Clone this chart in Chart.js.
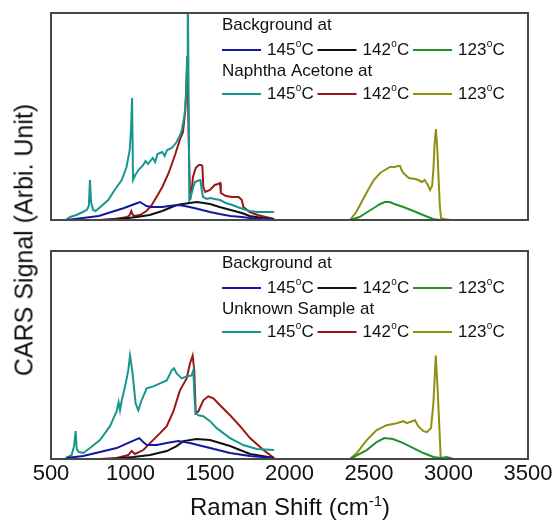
<!DOCTYPE html>
<html>
<head>
<meta charset="utf-8">
<script src="https://cdn.jsdelivr.net/npm/chart.js@4.4.1/dist/chart.umd.min.js"></script>
<style>
  body { margin: 0; background: #fff; }
  #wrap { position: relative; width: 556px; height: 523px; font-family: 'Liberation Sans', Arial, sans-serif; color: #111; }
  #topChart { position: absolute; left: 0; top: 0; }
  #bottomChart { position: absolute; left: 0; top: 235px; }
  #yTitle { position: absolute; left: 24px; top: 240px; transform: translate(-50%, -50%) rotate(-90deg); font-size: 25px; white-space: nowrap; }
  #xTitle { position: absolute; left: 290px; top: 506px; transform: translate(-50%, -50%); font-size: 24px; white-space: nowrap; }
  #xTitle sup { font-size: 15px; }
</style>
</head>
<body>
<div id="wrap">
  <canvas id="topChart" width="556" height="235"></canvas>
  <canvas id="bottomChart" width="556" height="288"></canvas>
  <div id="yTitle">CARS Signal (Arbi. Unit)</div>
  <div id="xTitle">Raman Shift (cm<sup>-1</sup>)</div>
</div>
<script>
// x axis ticks
const xTicks = [500, 1000, 1500, 2000, 2500, 3000, 3500];
const temps = ['145', '142', '123'];

// ---- top panel: Background / Naphtha Acetone ----
const topBg145X = [594, 650, 700, 800, 900, 960, 1010, 1060, 1080, 1100, 1130, 1160, 1200, 1240, 1300, 1340, 1400, 1450, 1500, 1560, 1630, 1700, 1750, 1830, 1903];
const topBg145Y = [0, 1, 2, 4, 9, 12, 15, 18, 16, 14, 13, 13, 13, 14, 15, 14, 12, 10, 8, 6, 4, 3, 2, 1, 1];

const topBg142X = [830, 930, 1040, 1120, 1200, 1245, 1290, 1330, 1370, 1418, 1460, 1500, 1560, 1630, 1700, 1750, 1830, 1903];
const topBg142Y = [0, 1, 3, 5, 9, 12, 15, 16, 17, 18, 17, 16, 13, 10, 7, 4, 2, 1];

const topBg123X = [2380, 2440, 2480, 2540, 2570, 2600, 2630, 2660, 2716, 2780, 2840, 2903, 2945];
const topBg123Y = [0, 3, 7, 13, 16, 18, 18, 16, 13, 9, 5, 1, 0];

const topNa145X = [594, 620, 660, 700, 725, 738, 745, 752, 765, 780, 810, 860, 900, 945, 975, 995, 1003, 1010, 1016, 1030, 1050, 1080, 1095, 1110, 1140, 1155, 1170, 1200, 1215, 1230, 1260, 1290, 1310, 1323, 1340, 1350, 1356, 1360, 1364, 1370, 1380, 1395, 1406, 1420, 1440, 1448, 1456, 1480, 1500, 1530, 1563, 1600, 1640, 1690, 1750, 1800, 1850, 1903];
const topNa145Y = [0, 3, 5, 8, 10, 14, 40, 18, 10, 9, 13, 20, 30, 40, 53, 70, 90, 122, 40, 45, 50, 55, 59, 56, 62, 58, 66, 68, 64, 70, 72, 78, 84, 90, 105, 125, 163, 235, 160, 20, 24, 33, 38, 39, 40, 30, 23, 21, 22, 21, 20, 17, 15, 12, 9, 8, 8, 8];

const topNa142X = [800, 900, 980, 995, 1005, 1012, 1020, 1060, 1100, 1130, 1160, 1200, 1240, 1280, 1310, 1330, 1345, 1352, 1358, 1366, 1375, 1385, 1393, 1410, 1430, 1445, 1452, 1458, 1470, 1500, 1530, 1550, 1563, 1568, 1600, 1640, 1680, 1700, 1710, 1750, 1800, 1850, 1903];
const topNa142Y = [0, 1, 3, 5, 9, 6, 4, 5, 9, 14, 22, 33, 47, 65, 80, 88, 110, 140, 163, 80, 20, 30, 43, 52, 55, 55, 54, 33, 28, 30, 35, 36, 37, 27, 24, 23, 23, 20, 13, 8, 5, 3, 1];

const topNa123X = [1650, 2380, 2400, 2420, 2440, 2460, 2494, 2530, 2570, 2600, 2632, 2660, 2680, 2695, 2705, 2716, 2750, 2790, 2810, 2833, 2850, 2870, 2884, 2897, 2905, 2912, 2921, 2930, 2938, 2945, 2953, 2970, 3010];
const topNa123Y = [0, 0, 4, 8, 14, 20, 30, 40, 47, 50, 53, 53, 54, 54, 50, 47, 42, 41, 40, 38, 40, 35, 30, 34, 50, 75, 91, 70, 40, 15, 2, 1, 0];

// ---- bottom panel: Background / Unknown Sample ----
const botBg145X = [594, 703, 808, 913, 997, 1055, 1080, 1102, 1165, 1228, 1300, 1374, 1500, 1626, 1752, 1903];
const botBg145Y = [1, 3, 7, 11, 17, 21, 17, 14, 14, 16, 18, 16, 11, 6, 3, 1];

const botBg142X = [871, 1018, 1123, 1228, 1290, 1332, 1416, 1500, 1626, 1752, 1903];
const botBg142Y = [0, 2, 4, 8, 13, 18, 20, 19, 13, 5, 1];

const botBg123X = [2381, 2486, 2548, 2596, 2650, 2716, 2779, 2842, 2905, 2951, 2990, 3030];
const botBg123Y = [0, 9, 17, 21, 20, 16, 11, 6, 2, 1, 2, 0];

const botUn145X = [594, 630, 645, 655, 662, 675, 703, 745, 808, 871, 913, 925, 934, 945, 966, 986, 997, 1011, 1032, 1049, 1070, 1102, 1144, 1186, 1228, 1259, 1274, 1290, 1322, 1353, 1385, 1395, 1403, 1410, 1427, 1458, 1500, 1542, 1626, 1709, 1794, 1903];
const botUn145Y = [1, 4, 13, 28, 10, 7, 6, 11, 19, 33, 48, 57, 49, 59, 73, 89, 104, 89, 56, 49, 59, 71, 73, 76, 79, 89, 91, 86, 81, 83, 84, 89, 60, 46, 44, 43, 38, 31, 21, 14, 10, 9];

const botUn142X = [808, 913, 986, 1007, 1028, 1081, 1123, 1186, 1228, 1270, 1311, 1353, 1374, 1391, 1401, 1410, 1427, 1458, 1489, 1521, 1563, 1626, 1689, 1752, 1836, 1903];
const botUn142Y = [0, 1, 4, 8, 5, 9, 16, 26, 33, 48, 69, 81, 96, 104, 89, 46, 48, 59, 63, 61, 54, 44, 33, 21, 9, 1];

const botUn123X = [1650, 2381, 2423, 2486, 2548, 2611, 2674, 2716, 2737, 2789, 2810, 2842, 2863, 2890, 2905, 2920, 2932, 2945, 2951, 3009];
const botUn123Y = [0, 0, 6, 19, 29, 34, 36, 38, 36, 39, 33, 28, 27, 31, 56, 104, 69, 23, 1, 0];

const colors = ['#1616a4', '#111111', '#22912b', '#17968e', '#9b1616', '#8f8f12'];

function pts(xs, ys) {
  return xs.map((x, i) => ({ x: x, y: ys[i] }));
}

function makeDatasets(group, series) {
  return series.map((s, i) => ({
    label: (i < 3 ? group[0] : group[1]) + ' ' + temps[i % 3] + '°C',
    data: pts(s[0], s[1]),
    borderColor: colors[i],
    borderWidth: 2,
    pointRadius: 0,
    tension: 0,
    fill: false
  }));
}

// frame around plot area
const frame = {
  id: 'frame',
  afterDatasetsDraw(chart) {
    const a = chart.chartArea;
    const ctx = chart.ctx;
    ctx.save();
    ctx.strokeStyle = '#474747';
    ctx.lineWidth = 2;
    ctx.strokeRect(a.left, a.top, a.right - a.left, a.bottom - a.top);
    ctx.restore();
  }
};

// two-group legend drawn inside the plot
const rowLegend = {
  id: 'rowLegend',
  afterDraw(chart, args, opts) {
    const ctx = chart.ctx;
    const a = chart.chartArea;
    const x0 = a.left + 171;
    const font = '"Liberation Sans", Arial, sans-serif';
    ctx.save();
    ctx.textBaseline = 'middle';
    ctx.fillStyle = '#111';
    opts.groups.forEach((title, g) => {
      const ty = a.top + (g === 0 ? 12 : 58);
      const ry = a.top + (g === 0 ? 37 : 81);
      ctx.font = '17px ' + font;
      ctx.fillText(title, x0, ty);
      for (let i = 0; i < 3; i++) {
        const lx = x0 + i * 95.5;
        ctx.strokeStyle = colors[g * 3 + i];
        ctx.lineWidth = 2;
        ctx.beginPath();
        ctx.moveTo(lx, ry);
        ctx.lineTo(lx + 39, ry);
        ctx.stroke();
        let tx = lx + 45;
        ctx.font = '17px ' + font;
        ctx.fillText(temps[i], tx, ry);
        tx += ctx.measureText(temps[i]).width;
        ctx.font = '10px ' + font;
        ctx.fillText('o', tx + 0.5, ry - 6);
        tx += ctx.measureText('o').width + 0.5;
        ctx.font = '17px ' + font;
        ctx.fillText('C', tx, ry);
      }
    });
    ctx.restore();
  }
};

function makeOptions(yMax, showX, pad, groups) {
  return {
    responsive: false,
    animation: false,
    layout: { padding: pad },
    scales: {
      x: {
        type: 'linear',
        min: 500,
        max: 3500,
        display: showX,
        grid: { display: false, drawTicks: false },
        border: { display: false },
        afterBuildTicks: (s) => { s.ticks = xTicks.map(v => ({ value: v })); },
        afterFit: (s) => { if (showX) s.height = 40; },
        ticks: {
          autoSkip: false,
          maxRotation: 0,
          padding: 2,
          color: '#111',
          font: { family: '"Liberation Sans", Arial, sans-serif', size: 22 },
          callback: (v) => String(v)
        }
      },
      y: { display: false, min: 0, max: yMax }
    },
    plugins: {
      legend: { display: false },
      tooltip: { enabled: false },
      rowLegend: { groups: groups }
    }
  };
}

const topGroups = ['Background at', 'Naphtha Acetone at'];
const botGroups = ['Background at', 'Unknown Sample at'];

new Chart(document.getElementById('topChart'), {
  type: 'line',
  data: {
    datasets: makeDatasets(topGroups, [
      [topBg145X, topBg145Y], [topBg142X, topBg142Y], [topBg123X, topBg123Y],
      [topNa145X, topNa145Y], [topNa142X, topNa142Y], [topNa123X, topNa123Y]
    ])
  },
  options: makeOptions(207, false, { left: 51, right: 28, top: 13, bottom: 15 }, topGroups),
  plugins: [frame, rowLegend]
});

new Chart(document.getElementById('bottomChart'), {
  type: 'line',
  data: {
    datasets: makeDatasets(botGroups, [
      [botBg145X, botBg145Y], [botBg142X, botBg142Y], [botBg123X, botBg123Y],
      [botUn145X, botUn145Y], [botUn142X, botUn142Y], [botUn123X, botUn123Y]
    ])
  },
  options: makeOptions(209, true, { left: 51, right: 28, top: 16, bottom: 24 }, botGroups),
  plugins: [frame, rowLegend]
});
</script>
</body>
</html>
